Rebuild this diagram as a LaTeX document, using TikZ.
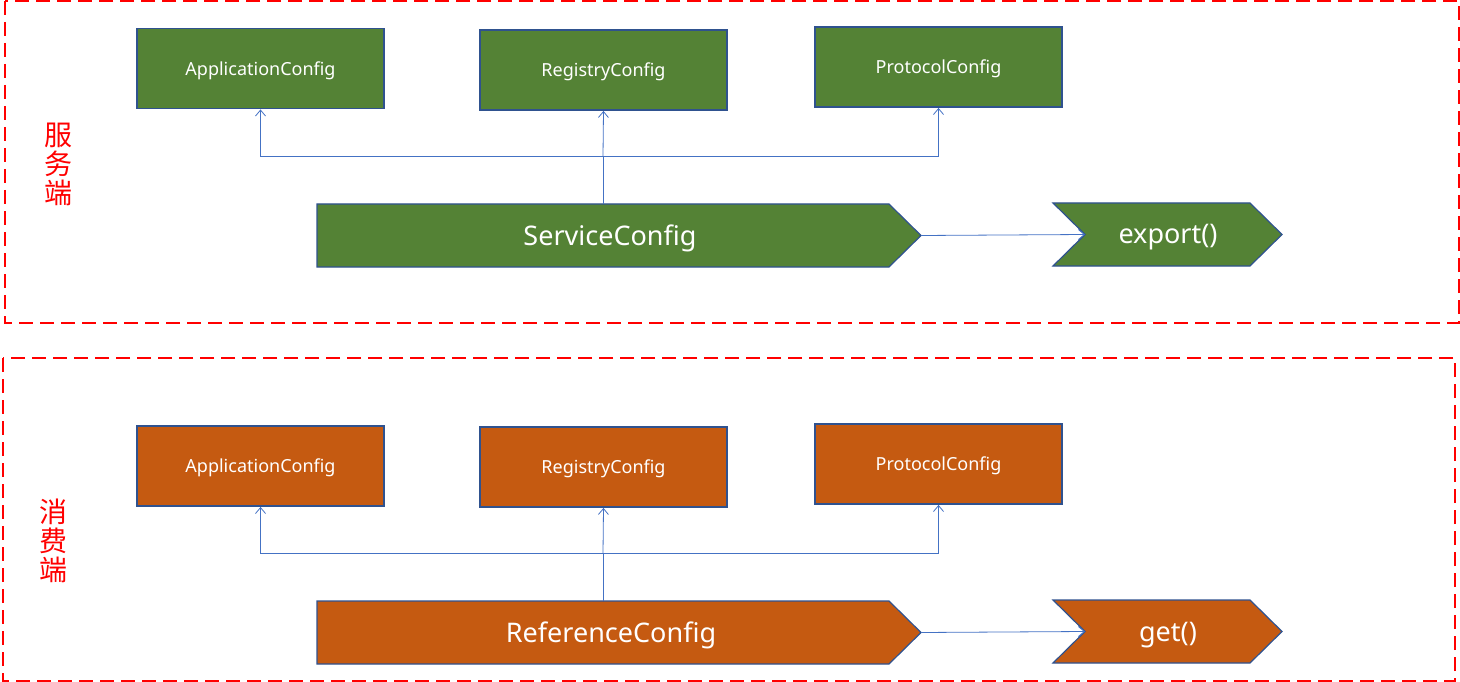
\documentclass[tikz,border=0pt]{standalone}
\usepackage{fontspec}
\setmainfont{Noto Sans}
\newfontfamily\cjk{Noto Sans CJK SC}
\usetikzlibrary{arrows.meta}
\definecolor{gfill}{HTML}{548235}
\definecolor{ofill}{HTML}{C55A11}
\definecolor{bord}{HTML}{2F528F}
\definecolor{conn}{HTML}{4472C4}
\begin{document}
\begin{tikzpicture}[x=1pt,y=-1pt,
  cfgbox/.style={draw=bord,line width=1.8pt,minimum width=247pt,minimum height=80pt,inner sep=0pt},
  cfgtxt/.style={text=white,font=\fontsize{18}{21}\selectfont},
  link/.style={draw=conn,line width=0.8pt},
  arr/.style={link,-{Straight Barb[length=6pt,width=10pt,line width=0.8pt]}},
  zone/.style={draw=red,line width=1.8pt,dash pattern=on 14pt off 7pt},
  bigtxt/.style={text=white,font=\fontsize{27}{31}\selectfont},
  side/.style={text=red,font=\cjk\fontsize{28}{29}\selectfont,align=center,inner sep=0pt}]
\useasboundingbox (0,0) rectangle (1460,682);
% zones
\draw[zone] (5,1) rectangle (1459,323);
\draw[zone] (3,358) rectangle (1455,681);
\node[side] (s1) at (58,164) {服\\务\\端};
\node[side] (s2) at (53,541) {消\\费\\端};
% top
\node[cfgbox,fill=gfill] (a1) at (260.5,68.5) {};
\node[cfgtxt] (a1t) at ([yshift=-2pt]a1.center) {ApplicationConfig};
\node[cfgbox,fill=gfill] (r1) at (603.5,70) {};
\node[cfgtxt] (r1t) at ([yshift=-2pt]r1.center) {RegistryConfig};
\node[cfgbox,fill=gfill] (p1) at (938.5,67) {};
\node[cfgtxt] (p1t) at ([yshift=-2pt]p1.center) {ProtocolConfig};
\filldraw[fill=gfill,draw=bord,line width=1.2pt] (317,204) -- (889,204) -- (921,235.5) -- (889,267) -- (317,267) -- cycle;
\node[bigtxt] (sc) at (610,238) {ServiceConfig};
\coordinate (sctip) at (921,235.5);
\coordinate (sctop) at (603,204);
\filldraw[fill=gfill,draw=bord,line width=1.2pt] (1053,203) -- (1250,203) -- (1282,234.5) -- (1250,266) -- (1053,266) -- (1085,234.5) -- cycle;
\node[bigtxt] (ex) at (1168,237) {export()};
\coordinate (exnotch) at (1085,234.5);
\coordinate (j1) at (603,156);
\draw[link] (sctop) -- (j1);
\draw[arr] (j1) -| (a1.south);
\draw[arr] (j1) -| (p1.south);
\draw[arr] (j1) -- (r1.south);
\draw[arr] (sctip) -- (exnotch);
% bottom
\node[cfgbox,fill=ofill] (a2) at (260.5,466) {};
\node[cfgtxt] (a2t) at ([yshift=-2pt]a2.center) {ApplicationConfig};
\node[cfgbox,fill=ofill] (r2) at (603.5,467) {};
\node[cfgtxt] (r2t) at ([yshift=-2pt]r2.center) {RegistryConfig};
\node[cfgbox,fill=ofill] (p2) at (938.5,464) {};
\node[cfgtxt] (p2t) at ([yshift=-2pt]p2.center) {ProtocolConfig};
\filldraw[fill=ofill,draw=bord,line width=1.2pt] (317,601) -- (889,601) -- (921,632.5) -- (889,664) -- (317,664) -- cycle;
\node[bigtxt] (rc) at (611,635) {ReferenceConfig};
\coordinate (rctip) at (921,632.5);
\coordinate (rctop) at (603,601);
\filldraw[fill=ofill,draw=bord,line width=1.2pt] (1053,600) -- (1250,600) -- (1282,631.5) -- (1250,663) -- (1053,663) -- (1085,631.5) -- cycle;
\node[bigtxt] (gt) at (1168,635) {get()};
\coordinate (gtnotch) at (1085,631.5);
\coordinate (j2) at (603,553);
\draw[link] (rctop) -- (j2);
\draw[arr] (j2) -| (a2.south);
\draw[arr] (j2) -| (p2.south);
\draw[arr] (j2) -- (r2.south);
\draw[arr] (rctip) -- (gtnotch);
\end{tikzpicture}
\end{document}
